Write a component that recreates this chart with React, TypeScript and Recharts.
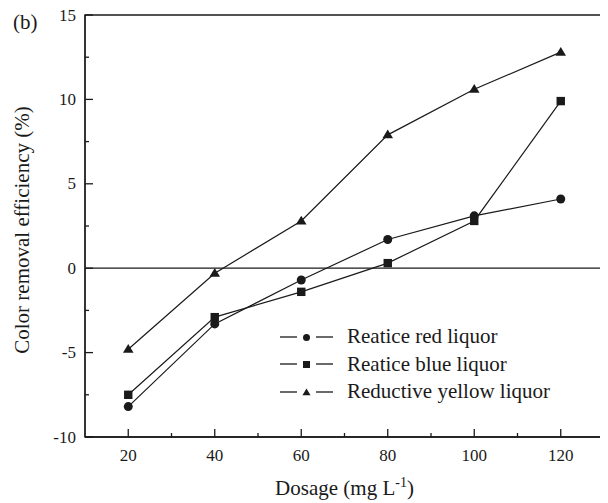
import React from 'react';
import {
  LineChart,
  Line,
  XAxis,
  YAxis,
  ReferenceLine,
  ReferenceArea,
  Label,
} from 'recharts';

const dosage = [20, 40, 60, 80, 100, 120];
const redLiquor = [-8.2, -3.3, -0.7, 1.7, 3.1, 4.1];
const blueLiquor = [-7.5, -2.9, -1.4, 0.3, 2.8, 9.9];
const yellowLiquor = [-4.8, -0.3, 2.8, 7.9, 10.6, 12.8];

const xTicks = [20, 30, 40, 50, 60, 70, 80, 90, 100, 110, 120];
const yTicks = [-10, -7.5, -5, -2.5, 0, 2.5, 5, 7.5, 10, 12.5, 15];

const seriesNames = ['Reatice red liquor', 'Reatice blue liquor', 'Reductive yellow liquor'];

const data = dosage.map((d, i) => ({
  dosage: d,
  red: redLiquor[i],
  blue: blueLiquor[i],
  yellow: yellowLiquor[i],
}));

const FONT = '"Liberation Serif", "Times New Roman", serif';
const INK = '#1a1a1a';

type Marker = 'circle' | 'square' | 'triangle';

function drawMarker(kind: Marker, cx: number, cy: number, s: number, key?: string) {
  if (kind === 'circle') return <circle key={key} cx={cx} cy={cy} r={s} fill={INK} />;
  if (kind === 'square')
    return <rect key={key} x={cx - s} y={cy - s} width={s * 2} height={s * 2} fill={INK} />;
  const h = s * 1.9;
  return (
    <polygon
      key={key}
      points={`${cx},${cy - h * 0.6} ${cx + s * 1.15},${cy + h * 0.4} ${cx - s * 1.15},${cy + h * 0.4}`}
      fill={INK}
    />
  );
}

const markerDot = (kind: Marker, size: number) => (props: any) => {
  const { cx, cy, index } = props;
  if (cx == null || cy == null) return <g key={index} />;
  return drawMarker(kind, cx, cy, size, `m-${kind}-${index}`);
};

// inward ticks, labels only on the major ones
const YTick = (props: any) => {
  const { x, y, payload } = props;
  const v = payload.value as number;
  const major = v % 5 === 0;
  return (
    <g>
      <line x1={x} x2={x + (major ? 8 : 4)} y1={y} y2={y} stroke={INK} strokeWidth={1.3} />
      {major && (
        <text x={x - 9} y={y} textAnchor="end" dominantBaseline="central" fontSize={17} fontFamily={FONT} fill={INK}>
          {v}
        </text>
      )}
    </g>
  );
};

const XTick = (props: any) => {
  const { x, y, payload } = props;
  const v = payload.value as number;
  const major = v % 20 === 0;
  return (
    <g>
      <line x1={x} x2={x} y1={y} y2={y - (major ? 8 : 4)} stroke={INK} strokeWidth={1.3} />
      {major && (
        <text x={x} y={y + 24} textAnchor="middle" fontSize={17} fontFamily={FONT} fill={INK}>
          {v}
        </text>
      )}
    </g>
  );
};

const XTitle = (props: any) => {
  const { viewBox } = props;
  const cx = viewBox.x + viewBox.width / 2;
  const y = viewBox.y + 58;
  return (
    <text x={cx} y={y} textAnchor="middle" fontSize={21} fontFamily={FONT} fill={INK}>
      Dosage (mg L
      <tspan dy={-8} fontSize={14}>-1</tspan>
      <tspan dy={8}>)</tspan>
    </text>
  );
};

const YTitle = (props: any) => {
  const { viewBox } = props;
  const cy = viewBox.y + viewBox.height / 2 + 4;
  const x = 22;
  return (
    <text
      x={x}
      y={cy}
      transform={`rotate(-90, ${x}, ${cy})`}
      textAnchor="middle"
      dominantBaseline="central"
      fontSize={21}
      fontFamily={FONT}
      fill={INK}
    >
      Color removal efficiency (%)
    </text>
  );
};

const markers: Marker[] = ['circle', 'square', 'triangle'];

function LegendBox() {
  return (
    <div style={{ position: 'absolute', left: 280, top: 323, fontFamily: FONT, fontSize: 21, color: INK }}>
      {seriesNames.map((name, i) => (
        <div key={name} style={{ display: 'flex', alignItems: 'center', height: 27.5 }}>
          <svg width={54} height={20} style={{ marginRight: 13 }}>
            <line x1={0} x2={17} y1={10} y2={10} stroke={INK} strokeWidth={1.3} />
            <line x1={36} x2={53} y1={10} y2={10} stroke={INK} strokeWidth={1.3} />
            {drawMarker(markers[i], 26.5, 10.5, 3.5)}
          </svg>
          <span style={{ lineHeight: 1 }}>{name}</span>
        </div>
      ))}
    </div>
  );
}

export default function App() {
  // pull the chart over the body margin so its svg covers the whole page
  return (
    <div style={{ position: 'relative', left: -8, top: -8, width: 608, height: 503 }}>
      <LineChart width={608} height={503} data={data} margin={{ top: 15, right: 4, bottom: 0, left: 0 }}>
        <XAxis
          dataKey="dosage"
          type="number"
          domain={[10, 130]}
          ticks={xTicks}
          interval={0}
          tick={<XTick />}
          tickLine={false}
          tickSize={0}
          tickMargin={0}
          height={66}
          axisLine={{ stroke: INK, strokeWidth: 1.3 }}
        >
          <Label content={<XTitle />} />
        </XAxis>
        <YAxis
          type="number"
          domain={[-10, 15]}
          ticks={yTicks}
          interval={0}
          tick={<YTick />}
          tickLine={false}
          tickSize={0}
          tickMargin={0}
          width={85}
          axisLine={{ stroke: INK, strokeWidth: 1.3 }}
        >
          <Label content={<YTitle />} />
        </YAxis>
        <ReferenceArea x1={10} x2={130} y1={-10} y2={15} fill="none" stroke={INK} strokeWidth={1.3} />
        <ReferenceLine y={0} stroke={INK} strokeWidth={1.3} />
        <Line
          dataKey="red"
          stroke={INK}
          strokeWidth={1.2}
          dot={markerDot('circle', 4.5)}
          activeDot={false}
          isAnimationActive={false}
        />
        <Line
          dataKey="blue"
          stroke={INK}
          strokeWidth={1.2}
          dot={markerDot('square', 4.2)}
          activeDot={false}
          isAnimationActive={false}
        />
        <Line
          dataKey="yellow"
          stroke={INK}
          strokeWidth={1.2}
          dot={markerDot('triangle', 4.6)}
          activeDot={false}
          isAnimationActive={false}
        />
      </LineChart>
      <span
        style={{ position: 'absolute', left: 13, top: 12, fontFamily: FONT, fontSize: 21, lineHeight: 1, color: INK }}
      >
        (b)
      </span>
      <LegendBox />
    </div>
  );
}
